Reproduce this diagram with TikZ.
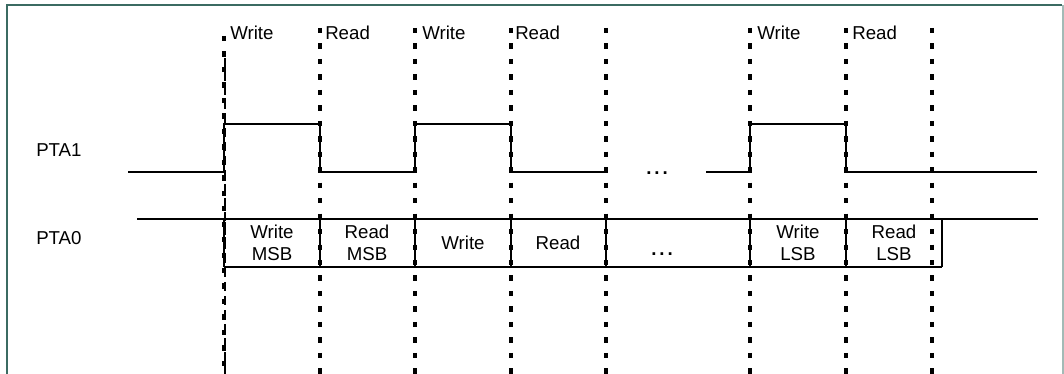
\documentclass[tikz,border=0pt]{standalone}
\usepackage{fontspec}
\setmainfont{Liberation Sans}
\definecolor{framecol}{HTML}{3B6B62}
\definecolor{framelite}{HTML}{A3BAB6}
\newcommand{\spaceddots}{\textbf{.\hspace{2.2pt}.\hspace{2.2pt}.}}
\begin{document}
\begin{tikzpicture}[x=0.75pt,y=-0.75pt,
  sig/.style={line width=1.7pt},
  gridln/.style={line width=2.3pt, dash pattern=on 4pt off 7.6pt},
  lbl/.style={font=\fontsize{14pt}{16.5pt}\selectfont, inner sep=0pt, anchor=west},
  cell/.style={font=\fontsize{14pt}{16.5pt}\selectfont, inner sep=0pt, align=center},
  dots/.style={font=\fontsize{14pt}{16.5pt}\selectfont, inner sep=0pt, anchor=base}]
\useasboundingbox (0,0) rectangle (1064,374);
% frame
\draw[color=framecol, line width=1.5pt] (7,374) -- (7,5) -- (1062,5);
\draw[color=framelite, line width=1.5pt] (1062.5,5) -- (1062.5,374);
% vertical dashed grid
\foreach \gx in {320,415,511,606,750,846,932}
  \draw[gridln] (\gx,28) -- (\gx,374);
\draw[gridln] (224,36) -- (224,374);
\draw[line width=1.8pt, dash pattern=on 6.5pt off 4pt] (225,58) -- (225,374);
% top labels
\node[lbl] (w1) at (230,33) {Write};
\node[lbl] (r1) at (325,33) {Read};
\node[lbl] (w2) at (422,33) {Write};
\node[lbl] (r2) at (515,33) {Read};
\node[lbl] (w3) at (757,33) {Write};
\node[lbl] (r3) at (852,33) {Read};
% signal names
\node[lbl] (pta1) at (36,150) {PTA1};
\node[lbl] (pta0) at (36,238) {PTA0};
% PTA1 waveform
\draw[sig] (128,172) -- (224,172) -- (224,124) -- (320,124) -- (320,172)
  -- (415,172) -- (415,124) -- (511,124) -- (511,172) -- (606,172);
\node[dots] (e1) at (657,175) {\spaceddots};
\draw[sig] (706,172) -- (750,172) -- (750,124) -- (846,124) -- (846,172) -- (1037,172);
% PTA0 bus
\draw[sig] (137,219) -- (1038,219);
\draw[sig] (224,267) -- (942,267);
\foreach \bx in {224,320,415,511,606,750,846,942}
  \draw[sig] (\bx,219) -- (\bx,267);
\node[cell] (c1) at (272,243) {Write\\MSB};
\node[cell] (c2) at (367,243) {Read\\MSB};
\node[cell] (c3) at (463,243) {Write};
\node[cell] (c4) at (558,243) {Read};
\node[dots] (e2) at (662,256) {\spaceddots};
\node[cell] (c5) at (798,243) {Write\\LSB};
\node[cell] (c6) at (894,243) {Read\\LSB};
\end{tikzpicture}
\end{document}
